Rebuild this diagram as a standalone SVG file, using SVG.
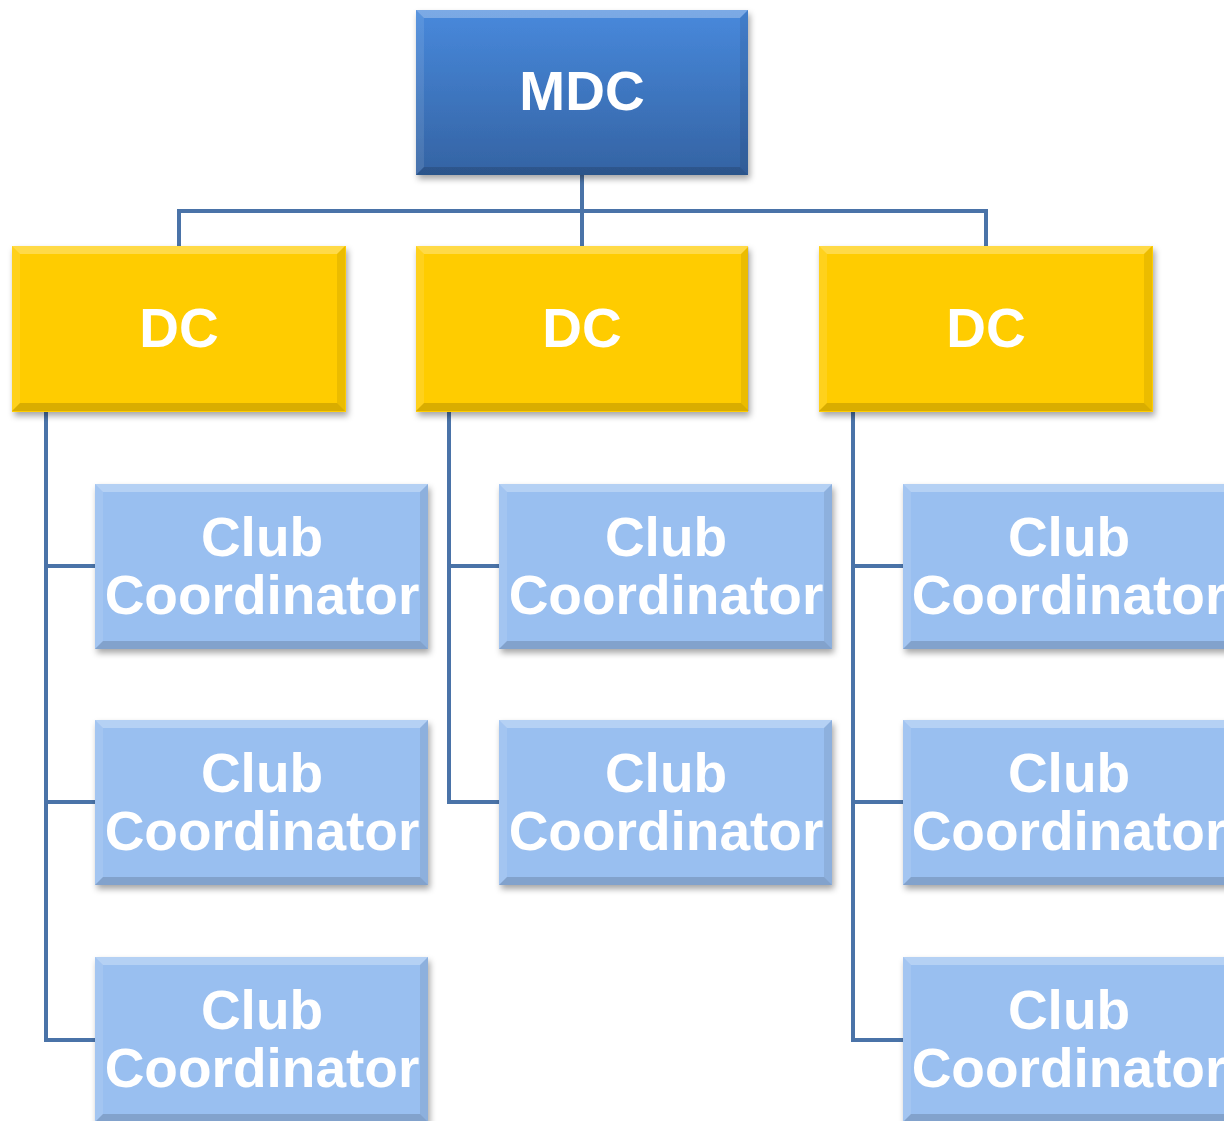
<svg xmlns="http://www.w3.org/2000/svg" width="1224" height="1121" viewBox="0 0 1224 1121">
<defs>
<linearGradient id="gMdc" x1="0" y1="0" x2="0" y2="1">
<stop offset="0" stop-color="#4889dc"/>
<stop offset="1" stop-color="#3463a3"/>
</linearGradient>
<filter id="sh" x="-10%" y="-10%" width="120%" height="130%">
<feDropShadow dx="2" dy="4" stdDeviation="3" flood-color="#000" flood-opacity="0.35"/>
</filter>
<g id="bev">
<polygon points="0,0 333,0 325,8 8,8" fill="#fff" fill-opacity="0.28"/>
<polygon points="0,0 8,8 8,157 0,165" fill="#fff" fill-opacity="0.1"/>
<polygon points="333,0 333,165 325,157 325,8" fill="#000" fill-opacity="0.08"/>
<polygon points="0,165 8,157 325,157 333,165" fill="#000" fill-opacity="0.15"/>
</g>
</defs>
<style>
.t{font-family:"Liberation Sans",Arial,sans-serif;font-weight:bold;font-size:55px;fill:#fff;text-anchor:middle}
.c{fill:none;stroke:#4a73a8;stroke-width:4}
.dc{fill:#ffcc00}
.cc{fill:#99bff0}
</style>
<g id="connectors">
<path class="c" d="M582,175 V211 M179,246 V211 H986 V246 M582,211 V246"/>
<path class="c" d="M95,566 H46 V412 M46,802 H95 M95,1040 H46 V566"/>
<path class="c" d="M499,566 H449 V412 M499,802 H449 V566"/>
<path class="c" d="M903,566 H853 V412 M853,802 H903 M903,1040 H853 V566"/>
</g>
<g id="mdc" filter="url(#sh)">
<rect x="416" y="10" width="332" height="165" fill="url(#gMdc)"/>
<use href="#bev" transform="translate(416,10) scale(0.997,1)"/>
<text class="t" x="582" y="110">MDC</text>
</g>
<g id="dc1" filter="url(#sh)">
<rect class="dc" x="12" y="246" width="334" height="166"/>
<use href="#bev" transform="translate(12,246)"/>
<text class="t" x="179" y="347">DC</text>
</g>
<g id="dc2" filter="url(#sh)">
<rect class="dc" x="416" y="246" width="332" height="166"/>
<use href="#bev" transform="translate(416,246)"/>
<text class="t" x="582" y="347">DC</text>
</g>
<g id="dc3" filter="url(#sh)">
<rect class="dc" x="819" y="246" width="334" height="166"/>
<use href="#bev" transform="translate(819,246)"/>
<text class="t" x="986" y="347">DC</text>
</g>
<g id="cc1a" filter="url(#sh)">
<rect class="cc" x="95" y="484" width="333" height="165"/>
<use href="#bev" transform="translate(95,484)"/>
<text class="t" x="262" y="556">Club</text><text class="t" x="262" y="614">Coordinator</text>
</g>
<g id="cc1b" filter="url(#sh)">
<rect class="cc" x="95" y="720" width="333" height="165"/>
<use href="#bev" transform="translate(95,720)"/>
<text class="t" x="262" y="792">Club</text><text class="t" x="262" y="850">Coordinator</text>
</g>
<g id="cc1c" filter="url(#sh)">
<rect class="cc" x="95" y="957" width="333" height="165"/>
<use href="#bev" transform="translate(95,957)"/>
<text class="t" x="262" y="1029">Club</text><text class="t" x="262" y="1087">Coordinator</text>
</g>
<g id="cc2a" filter="url(#sh)">
<rect class="cc" x="499" y="484" width="333" height="165"/>
<use href="#bev" transform="translate(499,484)"/>
<text class="t" x="666" y="556">Club</text><text class="t" x="666" y="614">Coordinator</text>
</g>
<g id="cc2b" filter="url(#sh)">
<rect class="cc" x="499" y="720" width="333" height="165"/>
<use href="#bev" transform="translate(499,720)"/>
<text class="t" x="666" y="792">Club</text><text class="t" x="666" y="850">Coordinator</text>
</g>
<g id="cc3a" filter="url(#sh)">
<rect class="cc" x="903" y="484" width="333" height="165"/>
<use href="#bev" transform="translate(903,484)"/>
<text class="t" x="1069" y="556">Club</text><text class="t" x="1069" y="614">Coordinator</text>
</g>
<g id="cc3b" filter="url(#sh)">
<rect class="cc" x="903" y="720" width="333" height="165"/>
<use href="#bev" transform="translate(903,720)"/>
<text class="t" x="1069" y="792">Club</text><text class="t" x="1069" y="850">Coordinator</text>
</g>
<g id="cc3c" filter="url(#sh)">
<rect class="cc" x="903" y="957" width="333" height="165"/>
<use href="#bev" transform="translate(903,957)"/>
<text class="t" x="1069" y="1029">Club</text><text class="t" x="1069" y="1087">Coordinator</text>
</g>
</svg>
